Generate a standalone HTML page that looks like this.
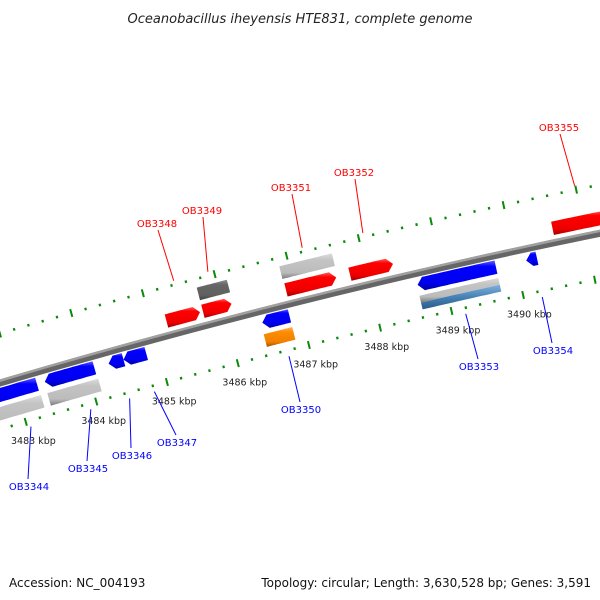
<!DOCTYPE html>
<html><head><meta charset="utf-8"><style>
html,body{margin:0;padding:0;background:#fff;}
svg{display:block;font-family:"DejaVu Sans","Liberation Sans",sans-serif;}
</style></head><body>
<svg id="map" width="600" height="600" viewBox="0 0 600 600">
<defs>
<linearGradient id="gRed" x1="0" y1="0" x2="0" y2="1"><stop offset="0" stop-color="#ff6060"/><stop offset="0.2" stop-color="#ff0000"/><stop offset="0.75" stop-color="#ee0000"/><stop offset="1" stop-color="#a00000"/></linearGradient>
<linearGradient id="gBlue" x1="0" y1="0" x2="0" y2="1"><stop offset="0" stop-color="#6060ff"/><stop offset="0.2" stop-color="#0000ff"/><stop offset="0.75" stop-color="#0000ee"/><stop offset="1" stop-color="#0000a0"/></linearGradient>
<linearGradient id="gGray" x1="0" y1="0" x2="0" y2="1"><stop offset="0" stop-color="#dcdcdc"/><stop offset="0.25" stop-color="#c4c4c4"/><stop offset="0.75" stop-color="#bcbcbc"/><stop offset="1" stop-color="#7a7a7a"/></linearGradient>
<linearGradient id="gDark" x1="0" y1="0" x2="0" y2="1"><stop offset="0" stop-color="#909090"/><stop offset="0.25" stop-color="#666"/><stop offset="0.75" stop-color="#606060"/><stop offset="1" stop-color="#404040"/></linearGradient>
<linearGradient id="gOrange" x1="0" y1="0" x2="0" y2="1"><stop offset="0" stop-color="#ffb060"/><stop offset="0.25" stop-color="#ff8c00"/><stop offset="0.75" stop-color="#f08000"/><stop offset="1" stop-color="#a05000"/></linearGradient>
<linearGradient id="gSteel" x1="0" y1="0" x2="0" y2="1"><stop offset="0" stop-color="#7fb0dd"/><stop offset="0.5" stop-color="#4682b4"/><stop offset="1" stop-color="#2a5a8a"/></linearGradient>
</defs>
<text x="300" y="23" text-anchor="middle" font-size="13" font-style="italic" fill="#222">Oceanobacillus iheyensis HTE831, complete genome</text>
<g id="layer"></g>
<text x="9" y="587" font-size="12" fill="#111">Accession: NC_004193</text>
<text x="591" y="587" text-anchor="end" font-size="12" fill="#111">Topology: circular; Length: 3,630,528 bp; Genes: 3,591</text>
</svg>
<script>
// ---- data (kbp) ----
const fwdNames = ["OB3348","OB3349","OB3351","OB3352","OB3355"];
const fwdStart = [3485.21,3485.72,3486.88,3487.77,3490.58];
const fwdEnd   = [3485.68,3486.12,3487.58,3488.37,3491.40];
const revNames = ["OB3344","OB3345","OB3346","OB3347","OB3350","OB3353","OB3354"];
const revStart = [3482.30,3483.40,3484.30,3484.51,3486.46,3488.63,3490.14];
const revEnd   = [3483.29,3484.10,3484.51,3484.83,3486.84,3489.72,3490.29];
const fwd2Start = [3485.72,3486.87];
const fwd2End   = [3486.14,3487.60];
const fwd2Kind  = ["dark","gray"];
const rev2Start = [3482.30,3483.39,3486.44,3488.62];
const rev2End   = [3483.30,3484.11,3486.84,3489.72];
const rev2Kind  = ["gray","gray","orange","graysteel"];
const tickKbp = [3483,3484,3485,3486,3487,3488,3489,3490];
const tickLabels = ["3483 kbp","3484 kbp","3485 kbp","3486 kbp","3487 kbp","3488 kbp","3489 kbp","3490 kbp"];
// label layout positions (screen)
const fwdLabelX = [157,202,291,354,559], fwdLabelY=[227,214,191,176,131];
const revLabelX = [29,88,132,177,301,479,553], revLabelY=[490,472,459,446,413,370,354];
const revLineFrom = [3483.05,3483.9,3484.45,3484.8,3486.70,3489.18,3490.25];

// ---- geometry ----
const CX=2066, CY=7383, R0=7300, A0=-1.8559, DA=0.01011;
function ang(k){return A0+(k-3483)*DA;}
function P(k,r){const a=ang(k);return [CX+(R0+r)*Math.cos(a), CY+(R0+r)*Math.sin(a)];}
const NS="http://www.w3.org/2000/svg";
const layer=document.getElementById('layer');
function mk(tag,attrs){const e=document.createElementNS(NS,tag);for(const k in attrs)e.setAttribute(k,attrs[k]);layer.appendChild(e);return e;}
function ptsStr(a){return a.map(p=>p[0].toFixed(1)+','+p[1].toFixed(1)).join(' ');}
function arcPts(k1,k2,r){const n=20,a=[];for(let i=0;i<=n;i++)a.push(P(k1+(k2-k1)*i/n,r));return a;}
const AH=6/73.8;
function gene(k1,k2,r,h,dir,fill){
  let pts;
  if(dir>0){const ke=Math.max(k1,k2-AH);pts=arcPts(k1,ke,r-h).concat([P(k2,r)]).concat(arcPts(k1,ke,r+h).reverse());}
  else if(dir<0){const ks=Math.min(k2,k1+AH);pts=[P(k1,r)].concat(arcPts(ks,k2,r-h)).concat(arcPts(ks,k2,r+h).reverse());}
  else {pts=arcPts(k1,k2,r-h).concat(arcPts(k1,k2,r+h).reverse());}
  return mk('polygon',{points:ptsStr(pts),fill:fill});
}
// backbone
let bb=mk('polyline',{points:ptsStr(arcPts(3482,3492,-1.5)),fill:'none',stroke:'#666','stroke-width':7});


let bb2=mk('polyline',{points:ptsStr(arcPts(3482,3492,0.8)),fill:'none',stroke:'#a0a0a0','stroke-width':2.5});


// ticks
for(let i=0;i<=50;i++){
  const k=3482.6+i*0.2; const kr=Math.round(k*10)/10;
  const major=Math.abs(kr-Math.round(kr))<0.01;
  [46,-46].forEach(rr=>{
    const len=major?4:1.3;
    const a=P(kr,rr-len),b=P(kr,rr+len);
    const t=mk('line',{x1:a[0],y1:a[1],x2:b[0],y2:b[1],stroke:'#0a8a0a','stroke-width':major?2:2.2});
    
    
  });
}
tickKbp.forEach((k,i)=>{
  const p=P(k,-66);
  const t=mk('text',{x:(p[0]+2).toFixed(1),y:(p[1]+3).toFixed(1),'text-anchor':'middle','font-size':9.5,fill:'#222'});
  t.textContent=tickLabels[i];
  
  
});
// genes
fwd2Start.forEach((s,i)=>{
  const g=gene(s,fwd2End[i],31,6.5,0,fwd2Kind[i]==='dark'?'url(#gDark)':'url(#gGray)');
  
  
});
fwdStart.forEach((s,i)=>{
  const g=gene(s,fwdEnd[i],13,6.8,1,'url(#gRed)');
  
  
});
rev2Start.forEach((s,i)=>{
  const kind=rev2Kind[i];
  if(kind==='graysteel'){
    const g1=gene(s,rev2End[i],-27.5,3.5,0,'url(#gGray)');
    
    
    const g2=gene(s,rev2End[i],-34.5,3.5,0,'url(#gSteel)');
    
    
  } else {
    const g=gene(s,rev2End[i],-31,6.5,0,kind==='orange'?'url(#gOrange)':'url(#gGray)');
    
    
  }
});
revStart.forEach((s,i)=>{
  const g=gene(s,revEnd[i],-13,6.8,-1,'url(#gBlue)');
  
  
});
// labels
fwdNames.forEach((n,i)=>{
  const a=P((fwdStart[i]+fwdEnd[i])/2,50);
  const l=mk('line',{x1:a[0],y1:a[1],x2:fwdLabelX[i]+1,y2:fwdLabelY[i]+3,stroke:'#ff0000','stroke-width':1});
  
  
  const t=mk('text',{x:fwdLabelX[i],y:fwdLabelY[i],'text-anchor':'middle','font-size':10,fill:'#ff0000'});
  t.textContent=n;
  
  
});
revNames.forEach((n,i)=>{
  const a=P(revLineFrom[i],-52);
  const l=mk('line',{x1:a[0],y1:a[1],x2:revLabelX[i]-1,y2:revLabelY[i]-11,stroke:'#0000ff','stroke-width':1});
  
  
  const t=mk('text',{x:revLabelX[i],y:revLabelY[i],'text-anchor':'middle','font-size':10,fill:'#0000ff'});
  t.textContent=n;
  
  
});
</script>
</body></html>
